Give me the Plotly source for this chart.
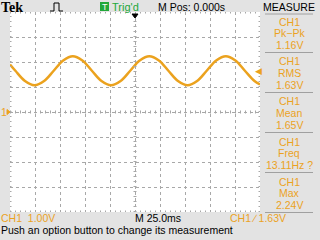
import plotly.graph_objects as go

time_ms = [-125.0, -119.6, -110.0, -100.5, -90.9, -81.3, -71.8, -62.2, -52.6, -43.1,
           -33.5, -24.0, -14.4, -4.8, 4.7, 14.3, 23.9, 33.4, 43.0, 52.6,
           62.1, 71.7, 81.2, 90.8, 100.4, 109.9, 119.5, 125.0]
ch1_volts = [1.90, 1.65, 1.24, 1.07, 1.24, 1.65, 2.06, 2.23, 2.06, 1.65,
             1.24, 1.07, 1.24, 1.65, 2.06, 2.23, 2.06, 1.65, 1.24, 1.07,
             1.24, 1.65, 2.06, 2.23, 2.06, 1.65, 1.24, 1.10]

measure_names = ["Pk\u2212Pk", "RMS", "Mean", "Freq", "Max"]
measure_values = ["1.16V", "1.63V", "1.65V", "13.11Hz ?", "2.24V"]
trigger_level = 1.63

W, H = 320, 240
ORANGE = "#eba21e"
BG = "#e3e3e3"
GRID = "#a8a8a8"
FONT = "Liberation Sans"
FS = 10.5

def px(x):
    return x / W

def py(y):
    return 1 - y / H

fig = go.Figure()
fig.add_trace(go.Scatter(x=time_ms, y=ch1_volts, mode="lines",
                         line=dict(color=ORANGE, width=2.5, shape="spline", smoothing=1.0),
                         hoverinfo="skip", showlegend=False))

fig.update_layout(
    width=W, height=H, margin=dict(l=0, r=0, t=0, b=0),
    paper_bgcolor=BG, plot_bgcolor="white",
    xaxis=dict(domain=[px(10), px(260)], range=[-125, 125], dtick=25, tick0=0,
               showgrid=True, gridcolor=GRID, griddash="dot", gridwidth=1,
               showticklabels=False, ticks="", zeroline=False, fixedrange=True),
    yaxis=dict(domain=[py(212), py(12)], range=[-4, 4], dtick=1, tick0=0,
               showgrid=True, gridcolor=GRID, griddash="dot", gridwidth=1,
               showticklabels=False, ticks="", zeroline=False, fixedrange=True),
    font=dict(family=FONT, size=FS),
)

shapes = []
# center tick lines and border ticks on graticule
shapes.append(dict(type="line", xref="x", yref="y", x0=-125, x1=125, y0=0, y1=0,
                   line=dict(color=GRID, width=3, dash="1px,4px")))
shapes.append(dict(type="line", xref="x", yref="y", x0=0, x1=0, y0=-4, y1=4,
                   line=dict(color=GRID, width=3, dash="1px,4px")))
for yy in (-4, 4):
    shapes.append(dict(type="line", xref="x", yref="y", x0=-125, x1=125, y0=yy, y1=yy,
                       line=dict(color=GRID, width=3, dash="1px,4px")))
for xx in (-125, 125):
    shapes.append(dict(type="line", xref="x", yref="y", x0=xx, x1=xx, y0=-4, y1=4,
                       line=dict(color=GRID, width=3, dash="1px,4px")))
# measure separators
for yl in [14, 52.5, 92.5, 132.5, 172.5, 212.5]:
    shapes.append(dict(type="line", xref="paper", yref="paper", x0=px(265), x1=px(313),
                       y0=py(yl), y1=py(yl), line=dict(color="#a0a0a0", width=1)))
# pulse icon
shapes.append(dict(type="path", xref="paper", yref="paper",
                   path=f"M {px(50)} {py(11)} L {px(54)} {py(11)} L {px(54)} {py(3)} L {px(59)} {py(3)} L {px(59)} {py(11)} L {px(63)} {py(11)}",
                   line=dict(color="black", width=1)))
# Trig'd green box
shapes.append(dict(type="rect", xref="paper", yref="paper", x0=px(100), x1=px(109),
                   y0=py(11), y1=py(2), fillcolor="#22a83a", line=dict(width=0)))
# trigger position arrow (top)
shapes.append(dict(type="path", xref="paper", yref="paper",
                   path=f"M {px(132)} {py(14)} L {px(138)} {py(14)} L {px(135)} {py(18)} Z",
                   fillcolor="black", line=dict(color="black", width=1)))
# ground marker arrow (left)
shapes.append(dict(type="path", xref="paper", yref="paper",
                   path=f"M {px(7)} {py(109.5)} L {px(10)} {py(112)} L {px(7)} {py(114.5)} Z",
                   fillcolor=ORANGE, line=dict(color=ORANGE, width=1)))
fig.update_layout(shapes=shapes)

ann = []
def txt(x, y, s, color="black", size=FS, anchor="left", family=FONT, bold=False):
    ann.append(dict(x=px(x), y=py(y), xref="paper", yref="paper", text=(f"<b>{s}</b>" if bold else s),
                    showarrow=False, xanchor=anchor, yanchor="middle", borderpad=0,
                    font=dict(color=color, size=size, family=family)))

txt(0, 7, "Tek", size=14, family="Liberation Serif", bold=True)
txt(104.5, 6.5, "T", color="white", size=9, anchor="center")
txt(111, 6.5, "Trig'd", color="#22a83a", size=11)
txt(191, 6.5, "M Pos: 0.000s", anchor="center")
txt(289, 6.5, "MEASURE", anchor="center")

for i, (n, v) in enumerate(zip(measure_names, measure_values)):
    y0 = 21.5 + 40 * i
    txt(289, y0, "CH1", color=ORANGE, anchor="center")
    txt(289, y0 + 11.5, n, color=ORANGE, anchor="center")
    txt(289, y0 + 23, v, color=ORANGE, anchor="center")

txt(0, 112, "1", color=ORANGE)
txt(258, 112 - trigger_level * 25, "\u25C0", color=ORANGE, size=9, anchor="center")
txt(0, 218, "CH1  1.00V", color=ORANGE)
txt(134, 218, "M 25.0ms")
txt(229, 218, "CH1 \u2215 1.63V", color=ORANGE)
txt(0, 230, "Push an option button to change its measurement")
fig.update_layout(annotations=ann)

fig.write_html("out.html")
